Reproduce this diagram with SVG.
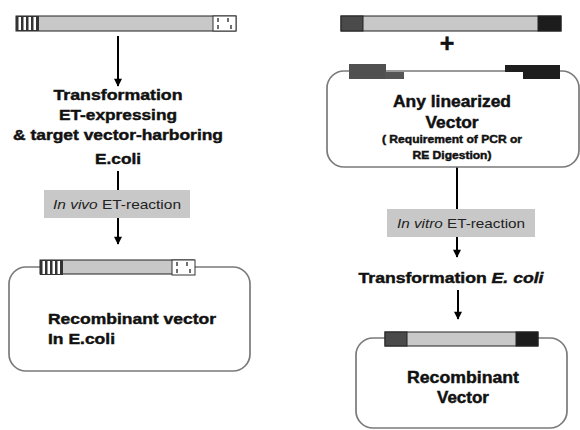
<svg xmlns="http://www.w3.org/2000/svg" width="580" height="430" viewBox="0 0 580 430">
  <style>
    .bold { font-family: "Liberation Sans", Arial, sans-serif; font-weight: bold; fill: #111; stroke: #111; stroke-width: 0.45; }
    .reg { font-family: "Liberation Sans", Arial, sans-serif; fill: #222; }
    .box { fill: #fff; stroke: #7a7a7a; stroke-width: 1.7; }
    .step { fill: #c8c8c8; }
    .line { stroke: #000; stroke-width: 2; fill: none; }
    .mid { fill: #c8c8c8; stroke: #222; stroke-width: 1; }
  </style>
  <defs>
    <marker id="arrow" viewBox="0 0 10 10" refX="9" refY="5" markerWidth="4.5" markerHeight="4" orient="auto" markerUnits="strokeWidth">
      <path d="M0,0 L10,5 L0,10 z" fill="#000"/>
    </marker>
    <!-- striped end cap of the targeting construct -->
    <g id="stripes">
      <rect x="0" y="0" width="23" height="15" fill="#333"/>
      <rect x="2.5" y="1" width="2.5" height="13" fill="#fff"/>
      <rect x="7.5" y="1" width="2.5" height="13" fill="#fff"/>
      <rect x="12.5" y="1" width="2.5" height="13" fill="#fff"/>
      <rect x="17.5" y="1" width="2.5" height="13" fill="#fff"/>
    </g>
    <!-- dashed end cap -->
    <g id="dashes">
      <rect x="0" y="0" width="23" height="15" fill="#fff" stroke="#333" stroke-width="1"/>
      <path d="M5,2 v4 M5,9 v4 M15,2 v4 M18,9 v4" stroke="#333" stroke-width="1.4"/>
    </g>
  </defs>

  <!-- connectors -->
  <g id="connectors">
    <line class="line" x1="118" y1="36" x2="118" y2="86" marker-end="url(#arrow)"/>
    <line class="line" x1="118" y1="171" x2="118" y2="190"/>
    <line class="line" x1="118" y1="218" x2="118" y2="244" marker-end="url(#arrow)"/>
    <line class="line" x1="457" y1="167" x2="457" y2="209"/>
    <line class="line" x1="457" y1="237" x2="457" y2="257" marker-end="url(#arrow)"/>
    <line class="line" x1="458" y1="290" x2="458" y2="319" marker-end="url(#arrow)"/>
  </g>

  <!-- left: targeting construct -->
  <g id="construct-left">
    <rect class="mid" x="16" y="16" width="220" height="15"/>
    <use href="#stripes" x="16" y="16"/>
    <use href="#dashes" x="213" y="16"/>
  </g>

  <g id="transformation-left">
    <text class="bold" x="118" y="100" text-anchor="middle" font-size="15.5" textLength="129" lengthAdjust="spacingAndGlyphs">Transformation</text>
    <text class="bold" x="118" y="120" text-anchor="middle" font-size="15.5" textLength="118" lengthAdjust="spacingAndGlyphs">ET-expressing</text>
    <text class="bold" x="118" y="140" text-anchor="middle" font-size="15.5" textLength="210" lengthAdjust="spacingAndGlyphs">&amp; target vector-harboring</text>
    <text class="bold" x="118" y="164" text-anchor="middle" font-size="15.5" textLength="46" lengthAdjust="spacingAndGlyphs">E.coli</text>
  </g>

  <g id="invivo">
    <rect class="step" x="44" y="190" width="146" height="28"/>
    <text class="reg" x="117" y="209" text-anchor="middle" font-size="13" textLength="128" lengthAdjust="spacingAndGlyphs"><tspan font-style="italic">In vivo</tspan> ET-reaction</text>
  </g>

  <g id="result-left">
    <rect class="box" x="9" y="267" width="241" height="104" rx="17"/>
    <rect class="mid" x="40" y="260" width="154" height="14"/>
    <use href="#stripes" x="40" y="260"/>
    <use href="#dashes" x="172" y="260"/>
    <text class="bold" x="48" y="324" font-size="15.5" textLength="168" lengthAdjust="spacingAndGlyphs">Recombinant vector</text>
    <text class="bold" x="48" y="344" font-size="15.5" textLength="67" lengthAdjust="spacingAndGlyphs">In E.coli</text>
  </g>

  <!-- right: PCR fragment with homology arms -->
  <g id="construct-right">
    <rect x="341" y="16" width="220" height="15" fill="#c8c8c8" stroke="#222" stroke-width="1"/>
    <rect x="341" y="16" width="22" height="15" fill="#4a4a4a" stroke="#222" stroke-width="1"/>
    <rect x="538" y="16" width="23" height="15" fill="#1c1c1c" stroke="#222" stroke-width="1"/>
  </g>

  <g id="plus">
    <text class="bold" x="447" y="52" text-anchor="middle" font-size="25">+</text>
  </g>

  <g id="linear-vector">
    <rect class="box" x="327" y="71" width="252" height="96" rx="17"/>
    <rect x="349" y="64" width="37" height="15" fill="#505050"/>
    <rect x="385" y="72" width="19" height="7" fill="#555"/>
    <rect x="505" y="65" width="55" height="7" fill="#1e1e1e"/>
    <rect x="523" y="71" width="37" height="8" fill="#1e1e1e"/>
    <text class="bold" x="452" y="107" text-anchor="middle" font-size="16.5" textLength="118" lengthAdjust="spacingAndGlyphs">Any linearized</text>
    <text class="bold" x="452" y="128" text-anchor="middle" font-size="16.5" textLength="53" lengthAdjust="spacingAndGlyphs">Vector</text>
    <text class="bold" x="452" y="143" text-anchor="middle" font-size="11" textLength="140" lengthAdjust="spacingAndGlyphs" stroke-width="0.3">( Requirement of PCR or</text>
    <text class="bold" x="452" y="159" text-anchor="middle" font-size="11" textLength="79" lengthAdjust="spacingAndGlyphs" stroke-width="0.3">RE Digestion)</text>
  </g>

  <g id="invitro">
    <rect class="step" x="387" y="209" width="148" height="28"/>
    <text class="reg" x="461" y="228" text-anchor="middle" font-size="13" textLength="128" lengthAdjust="spacingAndGlyphs"><tspan font-style="italic">In vitro</tspan> ET-reaction</text>
  </g>

  <g id="transformation-right">
    <text class="bold" x="451" y="283" text-anchor="middle" font-size="15.5" textLength="185" lengthAdjust="spacingAndGlyphs">Transformation <tspan font-style="italic">E. coli</tspan></text>
  </g>

  <g id="result-right">
    <rect class="box" x="356" y="338" width="211" height="90" rx="17"/>
    <rect x="385" y="332" width="153" height="14" fill="#c8c8c8" stroke="#222" stroke-width="1"/>
    <rect x="385" y="332" width="22" height="14" fill="#4a4a4a" stroke="#222" stroke-width="1"/>
    <rect x="516" y="332" width="22" height="14" fill="#1c1c1c" stroke="#222" stroke-width="1"/>
    <text class="bold" x="463" y="383" text-anchor="middle" font-size="16.5" textLength="112" lengthAdjust="spacingAndGlyphs">Recombinant</text>
    <text class="bold" x="463" y="403" text-anchor="middle" font-size="16.5" textLength="52" lengthAdjust="spacingAndGlyphs">Vector</text>
  </g>
</svg>
